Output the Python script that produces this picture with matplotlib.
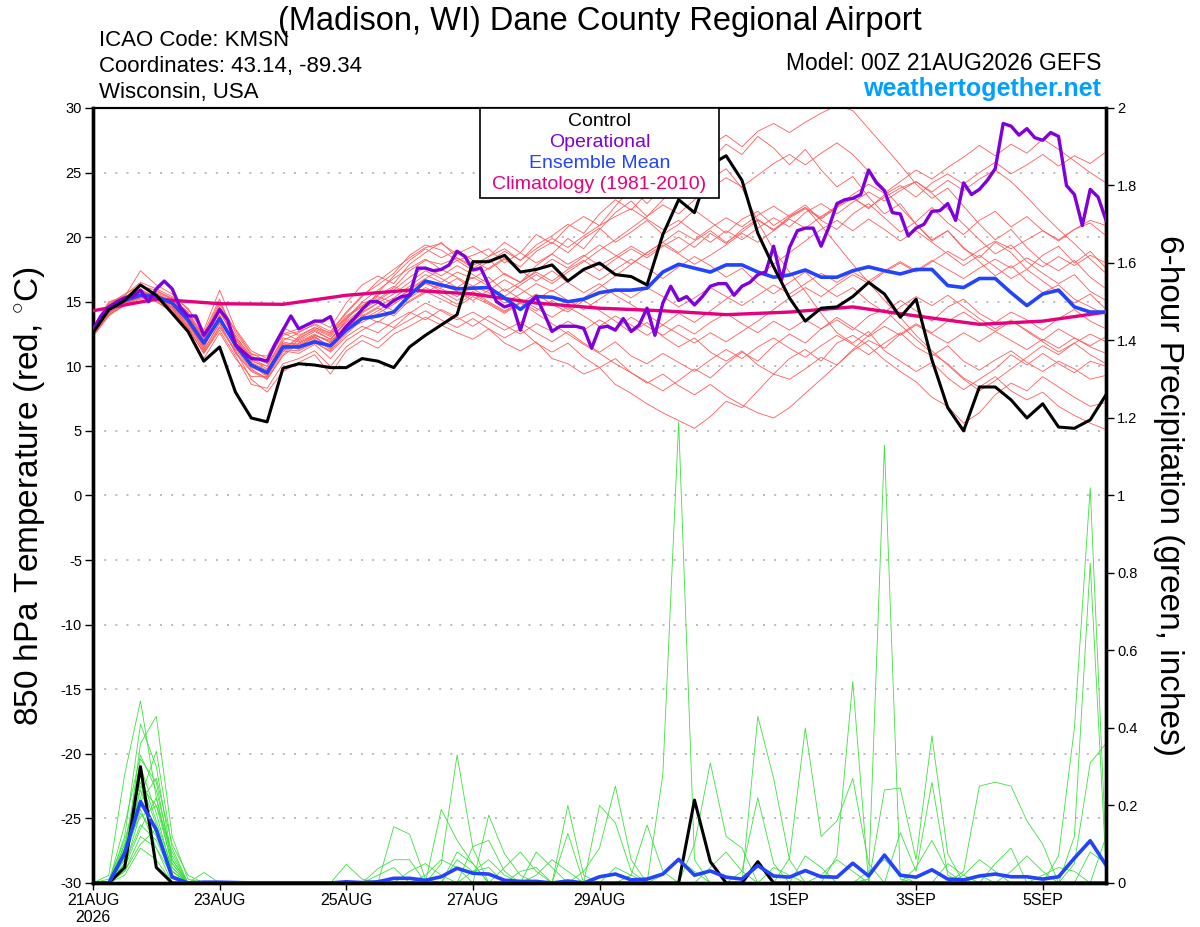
import numpy as np
import matplotlib
matplotlib.use("Agg")
import matplotlib.pyplot as plt
from matplotlib.patches import Rectangle

plt.rcParams['font.family'] = ['Liberation Sans', 'DejaVu Sans']
plt.rcParams['mathtext.fontset'] = 'custom'
plt.rcParams['mathtext.rm'] = 'Liberation Sans'
plt.rcParams['axes.unicode_minus'] = False

RED = '#ff5a5a'
GREEN = '#3ee03e'
BLUE = '#2343ff'
PURPLE = '#8000dd'
PINK = '#e6007e'

START = np.datetime64('2026-08-21T00')
t6 = START + np.arange(65) * np.timedelta64(6, 'h')
t3 = START + np.arange(129) * np.timedelta64(3, 'h')
t24 = START + np.arange(17) * np.timedelta64(24, 'h')

tick_dates = ['2026-08-21', '2026-08-23', '2026-08-25', '2026-08-27',
              '2026-08-29', '2026-09-01', '2026-09-03', '2026-09-05']
tick_labels = ['21AUG\n2026', '23AUG', '25AUG', '27AUG', '29AUG', '1SEP', '3SEP', '5SEP']

# 850 hPa temperature (C), 6-hourly
control_t = [12.6, 14.4, 15.1, 16.3, 15.5, 14.1, 12.7, 10.4, 11.5, 8.0,
             6.0, 5.7, 9.85, 10.2, 10.1, 9.9, 9.9, 10.6, 10.4, 9.9,
             11.5, 12.4, 13.2, 14.0, 18.1, 18.1, 18.6, 17.3, 17.5, 17.85,
             16.6, 17.5, 18.0, 17.1, 16.95, 16.3, 20.2, 22.9, 21.9, 25.6,
             26.3, 24.4, 20.3, 17.7, 15.3, 13.5, 14.5, 14.6, 15.4, 16.5,
             15.6, 13.8, 15.2, 10.5, 6.8, 5.0, 8.4, 8.4, 7.4, 6.0,
             7.1, 5.3, 5.2, 5.85, 7.8]

mean_t = [12.8, 14.4, 15.1, 15.5, 15.4, 14.9, 13.6, 11.8, 13.7, 11.65,
          10.1, 9.5, 11.5, 11.5, 11.9, 11.6, 12.8, 13.7, 13.9, 14.2,
          15.5, 16.6, 16.3, 16.0, 16.05, 16.1, 15.3, 14.4, 15.4, 15.35,
          15.0, 15.2, 15.7, 15.9, 15.9, 16.05, 17.3, 17.9, 17.6, 17.3,
          17.85, 17.85, 17.3, 16.9, 17.07, 17.46, 16.9, 16.9, 17.4, 17.7,
          17.4, 17.15, 17.5, 17.5, 16.25, 16.1, 16.8, 16.8, 15.7, 14.7,
          15.6, 15.9, 14.6, 14.2, 14.2]

# operational run, 3-hourly
oper_t = [12.8, 13.9, 14.6, 15.0, 15.3, 15.4, 15.9, 15.0, 16.0, 16.6,
          16.0, 14.6, 13.9, 13.9, 12.4, 13.3, 14.4, 13.6, 11.7, 11.1,
          10.6, 10.55, 10.4, 11.7, 12.8, 13.9, 12.9, 13.2, 13.5, 13.5,
          13.85, 12.3, 13.1, 13.7, 14.4, 15.0, 15.0, 14.6, 15.1, 15.4,
          15.5, 17.6, 17.6, 17.4, 17.5, 17.85, 18.9, 18.5, 17.46, 17.6,
          16.3, 15.0, 14.6, 14.8, 12.8, 14.75, 15.4, 14.1, 12.7, 13.1,
          13.1, 13.1, 12.95, 11.4, 13.0, 13.1, 12.8, 13.7, 12.7, 13.2,
          14.5, 12.4, 14.9, 16.2, 15.1, 15.4, 14.75, 15.4, 16.2, 16.4,
          16.4, 15.5, 16.2, 16.5, 17.1, 17.3, 19.3, 16.7, 19.2, 20.5,
          20.7, 20.7, 19.3, 20.8, 22.6, 22.9, 23.0, 23.3, 25.2, 24.2,
          23.6, 21.9, 21.8, 20.1, 20.7, 21.0, 22.0, 22.05, 22.6, 21.3,
          24.2, 23.3, 23.7, 24.4, 25.3, 28.8, 28.6, 27.9, 28.4, 27.7,
          27.5, 28.1, 27.8, 24.0, 23.3, 20.9, 23.7, 23.1, 21.3]

# climatology (1981-2010), daily
clim_t = [14.3, 15.2, 14.85, 14.8, 15.5, 15.9, 15.6, 14.9, 14.5, 14.3,
          14.0, 14.2, 14.6, 13.9, 13.25, 13.5, 14.2]

# ensemble members, 6-hourly
members_t = [
    [12.6, 14.2, 15.0, 15.4, 15.6, 14.8, 13.4, 11.2, 13.4, 11.0, 9.6, 9.0, 10.8,
     11.8, 12.4, 12.0, 13.6, 14.9, 15.2, 16.1, 17.4, 18.2, 17.9, 18.4, 17.8, 18.5, 19.1,
     18.2, 19.4, 20.1, 21.0, 20.3, 21.8, 22.9, 22.1, 23.4, 24.6, 25.2, 26.5, 27.1, 27.9,
     27.0, 28.2, 28.8, 28.1, 28.9, 29.6, 30.2, 29.8, 28.4, 27.0, 25.6, 24.1, 23.0, 23.8,
     22.4, 21.0, 19.8, 20.6, 19.2, 18.1, 17.4, 18.2, 16.9, 16.0],
    [12.9, 14.8, 15.6, 16.2, 15.9, 15.2, 14.0, 12.2, 14.6, 12.3, 10.8, 10.2, 12.0,
     12.6, 13.3, 12.7, 14.2, 15.5, 16.3, 17.2, 18.6, 19.4, 19.0, 18.2, 18.6, 19.1, 18.0,
     18.8, 20.2, 19.5, 20.8, 21.6, 20.9, 22.4, 23.8, 22.6, 23.9, 25.1, 24.3, 26.0, 27.2,
     26.4, 27.8, 26.9, 25.6, 26.8, 25.2, 23.9, 24.7, 23.1, 21.8, 22.6, 21.0, 19.7, 20.5,
     19.1, 18.4, 19.6, 18.8, 17.5, 18.6, 19.3, 18.0, 18.9, 17.6],
    [12.4, 14.0, 14.7, 15.0, 15.1, 14.5, 13.0, 11.0, 13.0, 11.2, 9.0, 8.0, 9.6,
     10.3, 10.9, 9.4, 11.2, 12.0, 11.4, 12.5, 13.1, 13.8, 13.2, 12.6, 12.1, 12.9, 11.8,
     11.2, 11.9, 10.6, 10.2, 9.4, 9.9, 8.6, 7.9, 7.1, 6.4, 5.8, 5.2, 6.1, 7.3,
     6.8, 8.1, 9.4, 10.6, 11.3, 10.4, 11.8, 12.4, 11.6, 10.5, 9.6, 8.8, 7.6, 6.9,
     5.6, 6.4, 7.8, 8.7, 8.1, 9.2, 8.4, 7.6, 6.9, 7.2],
    [13.0, 15.0, 15.4, 17.4, 16.3, 15.6, 14.4, 12.8, 15.9, 12.9, 11.2, 10.6, 12.5,
     12.9, 13.6, 13.0, 14.9, 16.3, 17.0, 16.4, 17.9, 18.8, 19.6, 18.4, 17.6, 18.3, 17.1,
     16.5, 17.8, 18.7, 19.9, 19.1, 20.6, 21.9, 22.8, 21.6, 22.9, 24.0, 23.1, 24.5, 25.3,
     23.8, 21.2, 19.0, 17.3, 15.8, 14.1, 12.6, 11.8, 12.7, 11.2, 10.4, 9.6, 10.3, 9.1,
     8.2, 9.0, 9.8, 10.9, 10.1, 11.0, 10.2, 9.5, 10.4, 10.0],
    [12.7, 14.4, 15.2, 15.7, 15.0, 14.2, 12.8, 10.6, 12.6, 10.6, 9.2, 9.2, 11.6,
     11.4, 12.1, 11.3, 12.7, 13.9, 14.6, 15.3, 16.2, 17.1, 16.5, 17.3, 16.8, 17.6, 18.4,
     17.7, 18.9, 19.6, 18.8, 19.9, 20.7, 19.6, 20.4, 21.3, 20.2, 21.0, 22.1, 21.2, 20.3,
     21.4, 22.0, 20.9, 21.7, 22.5, 21.3, 20.6, 21.8, 22.6, 21.5, 20.4, 21.2, 22.3, 21.1,
     20.2, 21.3, 22.0, 20.8, 21.6, 20.5, 19.7, 20.6, 21.1, 20.1],
    [12.5, 14.1, 14.9, 15.3, 15.5, 15.0, 13.8, 12.0, 14.2, 12.1, 10.4, 10.0, 11.9,
     11.6, 12.2, 11.6, 12.9, 13.4, 14.1, 14.8, 15.6, 16.4, 16.0, 15.4, 16.2, 15.7, 14.9,
     15.6, 16.4, 15.8, 16.6, 17.4, 16.7, 17.5, 18.3, 17.6, 16.8, 17.7, 18.5, 17.8, 16.9,
     17.6, 16.4, 15.6, 16.5, 17.3, 16.2, 15.4, 16.1, 15.0, 14.2, 15.1, 14.3, 13.5, 14.6,
     15.2, 14.1, 13.4, 14.2, 13.6, 12.8, 13.7, 14.4, 13.5, 12.9],
    [12.8, 14.6, 15.3, 15.8, 15.3, 14.6, 13.2, 11.6, 13.8, 11.5, 9.9, 9.4, 11.2,
     11.0, 11.7, 10.6, 12.0, 12.8, 13.5, 13.0, 14.1, 14.9, 14.3, 13.6, 14.2, 13.5, 12.8,
     13.4, 12.6, 11.9, 12.7, 11.8, 11.1, 11.9, 10.8, 10.2, 11.0, 10.3, 9.6, 10.5, 11.3,
     10.6, 11.5, 12.2, 11.4, 10.7, 11.6, 12.4, 11.7, 10.9, 11.8, 12.6, 11.5, 10.8, 11.6,
     10.4, 9.7, 10.5, 11.2, 10.3, 9.6, 10.4, 9.8, 9.0, 9.3],
    [12.6, 14.3, 15.1, 15.5, 15.8, 15.3, 14.2, 12.4, 15.0, 12.6, 10.9, 10.8, 13.0,
     12.4, 13.0, 12.4, 13.8, 14.6, 15.4, 14.9, 16.0, 16.8, 17.5, 16.9, 16.2, 16.9, 15.8,
     16.5, 17.3, 16.6, 17.5, 18.2, 17.4, 18.3, 19.1, 18.4, 19.3, 20.0, 19.2, 20.3, 19.5,
     20.6, 21.4, 20.5, 21.6, 22.3, 21.5, 22.4, 23.1, 22.2, 23.3, 24.0, 23.1, 24.2, 24.9,
     24.1, 25.0, 25.8, 24.9, 25.6, 26.4, 25.5, 26.3, 25.7, 26.6],
    [12.9, 14.7, 15.4, 16.0, 15.2, 14.4, 13.0, 11.0, 12.8, 10.8, 8.6, 8.3, 10.2,
     10.6, 11.2, 10.0, 11.5, 12.4, 11.9, 12.9, 13.6, 14.3, 13.6, 13.0, 13.7, 12.9, 12.2,
     12.9, 11.8, 11.1, 11.8, 10.7, 9.9, 10.6, 9.5, 8.8, 8.1, 8.9, 9.8, 9.1, 10.2,
     11.1, 10.4, 11.6, 12.5, 11.8, 12.9, 13.6, 12.8, 13.9, 14.4, 13.2, 12.1, 11.0, 10.2,
     9.1, 8.4, 9.2, 8.1, 7.4, 8.0, 6.9, 6.2, 5.6, 5.1],
    [12.3, 13.9, 14.8, 15.2, 15.4, 14.9, 13.6, 11.9, 13.6, 11.7, 10.2, 9.3, 11.4,
     12.2, 12.8, 12.1, 13.5, 14.4, 15.1, 15.9, 16.9, 17.7, 17.0, 17.8, 17.1, 16.4, 17.2,
     16.5, 17.4, 18.3, 17.6, 18.5, 19.4, 18.6, 17.9, 18.8, 19.6, 18.8, 19.7, 20.5, 19.6,
     20.4, 21.3, 20.6, 21.5, 22.2, 21.4, 22.3, 23.0, 22.3, 23.1, 23.8, 24.3, 23.4, 22.2,
     21.0, 19.8, 18.7, 19.4, 18.1, 17.2, 16.4, 17.1, 15.8, 15.1],
    [12.8, 14.5, 15.2, 15.6, 15.6, 15.1, 14.0, 12.1, 14.4, 12.4, 10.6, 10.0, 12.2,
     11.9, 12.5, 11.8, 13.1, 13.8, 14.5, 13.9, 15.1, 15.8, 15.2, 14.6, 15.4, 14.8, 14.1,
     14.9, 15.6, 14.8, 14.2, 15.1, 14.3, 13.5, 12.6, 13.4, 12.3, 11.5, 12.2, 11.1, 10.4,
     11.2, 10.1, 9.4, 9.0, 9.8, 10.7, 10.1, 11.2, 12.0, 11.4, 12.5, 13.3, 12.6, 13.5,
     14.2, 13.4, 12.7, 13.5, 12.8, 12.0, 12.9, 12.2, 11.6, 12.3],
    [12.6, 14.2, 15.0, 15.4, 15.0, 14.3, 12.9, 11.1, 13.1, 11.3, 9.8, 9.0, 10.9,
     12.1, 12.9, 12.3, 13.7, 15.0, 15.9, 16.8, 17.6, 18.3, 17.5, 18.2, 17.4, 18.1, 18.9,
     18.2, 19.1, 19.9, 19.2, 20.1, 20.9, 21.6, 22.2, 21.4, 20.6, 21.3, 20.4, 19.6, 20.5,
     19.8, 20.7, 21.5, 20.8, 21.9, 22.6, 21.8, 22.7, 23.5, 22.8, 23.6, 24.3, 23.5, 24.4,
     23.6, 24.5, 25.2, 24.3, 23.1, 21.8, 20.6, 19.5, 18.3, 17.2],
    [13.1, 14.9, 15.5, 16.5, 16.0, 15.4, 14.5, 12.6, 15.2, 12.2, 10.5, 9.8, 11.8,
     11.3, 11.9, 11.1, 12.3, 13.1, 12.6, 13.5, 14.2, 13.6, 14.4, 13.8, 13.1, 13.9, 13.2,
     12.5, 13.3, 12.7, 13.5, 12.8, 13.6, 12.9, 13.8, 13.1, 12.4, 13.2, 12.5, 13.4, 14.1,
     13.3, 12.6, 13.5, 12.8, 13.6, 12.9, 13.8, 13.0, 12.3, 13.1, 12.4, 13.2, 12.5, 11.8,
     12.6, 11.9, 12.7, 12.0, 11.3, 12.1, 11.4, 12.2, 11.5, 11.0],
    [12.5, 14.1, 14.9, 15.3, 15.3, 14.7, 13.4, 11.7, 13.5, 11.9, 10.0, 9.5, 11.3,
     11.7, 12.3, 11.5, 13.0, 14.1, 14.9, 15.6, 16.5, 17.4, 16.8, 16.1, 16.9, 16.2, 15.4,
     16.3, 17.1, 16.4, 17.3, 18.1, 19.0, 19.8, 20.7, 21.6, 22.5, 21.8, 22.9, 23.8, 24.6,
     23.9, 24.8, 25.7, 26.4, 25.6, 26.5, 27.3, 26.4, 25.1, 23.7, 22.3, 21.0, 19.8, 20.5,
     19.2, 18.1, 17.0, 17.8, 16.6, 15.7, 16.3, 15.2, 14.6, 14.0],
    [12.7, 14.4, 15.1, 15.6, 15.5, 14.9, 13.5, 11.4, 14.0, 11.4, 10.1, 9.2, 11.5,
     11.5, 12.3, 11.4, 12.8, 14.3, 15.7, 17.0, 18.2, 19.1, 18.4, 19.0, 18.2, 17.5, 18.3,
     17.4, 16.6, 17.4, 16.5, 15.7, 16.4, 15.5, 14.8, 14.0, 13.2, 14.1, 13.4, 14.3, 15.2,
     16.1, 17.0, 17.9, 18.8, 19.7, 20.6, 21.3, 20.5, 21.4, 20.6, 19.7, 20.5, 19.6, 18.7,
     17.8, 18.6, 17.7, 16.8, 17.5, 16.6, 15.7, 14.9, 15.6, 14.4],
    [12.4, 14.0, 14.8, 15.4, 15.7, 15.2, 14.1, 12.3, 14.8, 12.8, 11.0, 10.4, 12.4,
     12.7, 13.2, 12.5, 13.9, 14.7, 15.5, 16.2, 15.6, 16.5, 15.8, 15.1, 15.8, 15.0, 14.3,
     14.9, 14.1, 13.3, 12.5, 11.7, 11.0, 10.2, 9.5, 8.7, 9.4, 8.5, 7.8, 8.6, 7.7,
     7.0, 6.4, 6.0, 6.8, 7.9, 9.0, 10.1, 11.3, 12.4, 13.5, 14.6, 15.4, 14.7, 15.5,
     14.6, 13.7, 12.9, 13.6, 12.7, 11.9, 11.1, 11.8, 10.9, 10.2],
    [12.8, 14.6, 15.3, 15.9, 15.4, 14.5, 13.1, 11.3, 13.3, 11.1, 9.7, 9.1, 11.1,
     12.3, 13.0, 12.6, 14.1, 15.4, 16.6, 17.5, 18.4, 19.2, 19.5, 18.7, 19.3, 18.5, 19.6,
     18.8, 18.0, 18.7, 17.9, 18.6, 17.8, 18.5, 19.3, 18.6, 19.4, 18.7, 17.9, 18.6, 19.4,
     20.3, 19.6, 20.5, 21.4, 20.7, 21.6, 22.4, 23.3, 24.1, 23.4, 24.3, 25.2, 24.5, 25.4,
     26.2, 27.1, 26.3, 27.2, 26.5, 27.6, 26.8, 25.9, 25.0, 24.2],
    [12.6, 14.3, 15.0, 15.5, 15.3, 14.8, 13.7, 11.8, 13.9, 11.8, 10.3, 9.7, 11.7,
     11.8, 12.4, 11.9, 13.2, 14.0, 13.4, 14.3, 15.0, 15.7, 16.4, 15.8, 15.1, 15.9, 16.7,
     16.0, 15.2, 15.9, 15.1, 14.4, 15.2, 16.0, 15.3, 16.1, 15.4, 14.6, 15.3, 16.1, 15.4,
     14.7, 15.5, 16.3, 15.6, 16.4, 17.2, 16.5, 17.3, 16.6, 17.4, 18.1, 17.4, 18.2, 17.5,
     16.8, 17.6, 18.3, 17.6, 18.4, 17.7, 18.5, 17.8, 18.6, 18.0],
    [12.9, 14.7, 15.4, 15.8, 15.5, 15.0, 13.9, 12.0, 14.3, 12.0, 10.7, 10.3, 12.6,
     12.0, 12.7, 12.1, 13.4, 14.2, 14.9, 14.3, 15.3, 16.1, 15.5, 14.8, 15.6, 14.9, 14.2,
     15.0, 14.3, 15.1, 14.4, 15.3, 16.1, 17.0, 17.9, 18.8, 19.6, 20.5, 19.8, 20.7, 21.5,
     20.8, 21.7, 22.4, 21.6, 22.3, 20.9, 19.4, 17.9, 16.5, 15.1, 13.8, 12.4, 11.2, 10.1,
     9.0, 8.1, 8.9, 9.8, 10.7, 11.6, 10.9, 11.8, 12.5, 11.9],
    [12.5, 14.2, 15.0, 15.6, 15.2, 14.6, 13.3, 11.5, 13.7, 11.6, 10.0, 9.4, 11.3,
     11.2, 11.8, 11.2, 12.5, 13.6, 14.3, 15.1, 15.9, 16.7, 16.1, 16.8, 16.0, 15.3, 16.0,
     15.2, 14.5, 13.8, 14.6, 13.9, 13.1, 13.9, 13.2, 12.4, 13.2, 12.5, 11.8, 12.6, 11.9,
     12.7, 13.5, 14.4, 15.3, 16.1, 15.4, 16.3, 17.1, 16.4, 17.3, 18.0, 17.3, 18.1, 18.9,
     18.2, 19.0, 19.7, 19.1, 19.8, 20.5, 19.8, 20.6, 21.3, 20.9],
]

# 6-hour precipitation (inches); members given as {6h step: amount}, others zero
mean_p = [0, 0, 0.077, 0.21, 0.137, 0.015, 0, 0.002, 0.002, 0.001,
          0, 0, 0, 0, 0, 0, 0.003, 0.001, 0.003, 0.012,
          0.012, 0.007, 0.016, 0.038, 0.025, 0.023, 0.007, 0.004, 0.004, 0.0,
          0.005, 0.0, 0.016, 0.023, 0.008, 0.01, 0.023, 0.061, 0.02, 0.031,
          0.015, 0.01, 0.045, 0.018, 0.015, 0.032, 0.016, 0.015, 0.051, 0.018,
          0.072, 0.02, 0.015, 0.034, 0.01, 0.008, 0.018, 0.023, 0.016, 0.016,
          0.01, 0.016, 0.064, 0.109, 0.046]

control_p = {2: 0.04, 3: 0.30, 4: 0.04, 38: 0.214, 39: 0.055, 42: 0.055}

members_p = [
    {1: 0.02, 2: 0.28, 3: 0.47, 4: 0.22, 5: 0.04, 22: 0.05, 23: 0.33, 24: 0.09, 36: 0.28, 37: 1.19, 38: 0.06, 56: 0.02},
    {2: 0.12, 3: 0.41, 4: 0.30, 5: 0.06, 19: 0.145, 20: 0.126, 21: 0.01, 42: 0.43, 43: 0.27, 44: 0.06, 62: 0.12, 63: 0.825, 64: 0.04},
    {2: 0.05, 3: 0.36, 4: 0.43, 5: 0.12, 6: 0.01, 25: 0.175, 26: 0.075, 27: 0.02, 49: 0.01, 50: 1.13, 51: 0.01},
    {2: 0.09, 3: 0.30, 4: 0.18, 5: 0.03, 22: 0.19, 23: 0.11, 24: 0.05, 47: 0.07, 48: 0.52},
    {2: 0.06, 3: 0.25, 4: 0.20, 5: 0.05, 30: 0.128, 32: 0.2, 33: 0.155, 34: 0.03, 61: 0.07, 62: 0.40, 63: 1.02, 64: 0.08},
    {2: 0.04, 3: 0.18, 4: 0.12, 5: 0.02, 28: 0.08, 29: 0.04, 44: 0.064, 45: 0.40, 46: 0.12, 47: 0.16, 48: 0.27, 49: 0.05},
    {2: 0.15, 3: 0.33, 4: 0.24, 5: 0.07, 7: 0.027, 16: 0.048, 17: 0.01, 38: 0.1, 39: 0.31, 40: 0.12, 41: 0.09},
    {2: 0.03, 3: 0.12, 4: 0.09, 5: 0.02, 50: 0.24, 51: 0.245, 52: 0.06, 53: 0.38, 54: 0.075},
    {2: 0.08, 3: 0.21, 4: 0.27, 5: 0.10, 6: 0.02, 55: 0.03, 56: 0.25, 57: 0.26, 58: 0.25, 59: 0.16, 60: 0.1},
    {2: 0.07, 3: 0.28, 4: 0.16, 5: 0.04, 18: 0.037, 19: 0.06, 20: 0.06, 24: 0.094, 25: 0.11, 26: 0.03, 51: 0.13, 52: 0.03, 53: 0.26, 54: 0.02},
    {2: 0.10, 3: 0.22, 4: 0.34, 5: 0.09, 23: 0.08, 24: 0.05, 34: 0.02, 35: 0.15, 36: 0.03, 62: 0.05, 63: 0.31, 64: 0.36},
    {2: 0.02, 3: 0.09, 4: 0.06, 27: 0.03, 28: 0.04, 30: 0.2, 31: 0.02, 58: 0.03, 59: 0.07, 60: 0.03},
    {1: 0.01, 2: 0.11, 3: 0.26, 4: 0.15, 5: 0.03, 20: 0.03, 21: 0.05, 22: 0.02, 41: 0.03, 42: 0.22, 43: 0.05, 45: 0.07, 46: 0.04},
    {2: 0.05, 3: 0.15, 4: 0.11, 5: 0.02, 31: 0.03, 32: 0.09, 33: 0.25, 34: 0.06, 39: 0.04, 40: 0.08, 41: 0.03},
    {2: 0.09, 3: 0.32, 4: 0.26, 5: 0.05, 23: 0.06, 24: 0.03, 25: 0.04, 52: 0.04, 53: 0.11, 54: 0.03, 63: 0.08, 64: 0.05},
    {2: 0.03, 3: 0.10, 4: 0.14, 5: 0.03, 26: 0.04, 27: 0.08, 28: 0.03, 46: 0.02, 47: 0.06, 48: 0.03, 57: 0.05, 58: 0.09},
    {2: 0.06, 3: 0.19, 4: 0.09, 18: 0.02, 19: 0.04, 36: 0.02, 37: 0.06, 38: 0.03, 55: 0.02, 56: 0.06, 57: 0.03},
    {2: 0.04, 3: 0.14, 4: 0.22, 5: 0.06, 24: 0.03, 25: 0.06, 26: 0.02, 43: 0.04, 44: 0.02, 60: 0.02, 61: 0.04, 62: 0.03},
    {2: 0.07, 3: 0.24, 4: 0.13, 5: 0.02, 28: 0.02, 29: 0.06, 30: 0.03, 49: 0.03, 50: 0.06, 51: 0.02, 64: 0.12},
    {2: 0.10, 3: 0.17, 4: 0.20, 5: 0.08, 21: 0.02, 22: 0.06, 23: 0.04, 33: 0.04, 34: 0.02, 54: 0.05, 55: 0.02},
]


def expand(steps):
    out = np.zeros(len(t6))
    for k, v in steps.items():
        out[k] = v
    return out


fig = plt.figure(figsize=(12, 9.27), dpi=100)
ax2 = fig.add_axes([0.0775, 0.0475, 0.8442, 0.836])
ax = fig.add_axes([0.0775, 0.0475, 0.8442, 0.836], sharex=ax2)
ax.patch.set_visible(False)

# precipitation (right axis)
for m in members_p:
    ax2.plot(t6, expand(m), color=GREEN, lw=0.6)
ax2.plot(t6, expand(control_p), color='black', lw=2.2)
ax2.plot(t6, mean_p, color=BLUE, lw=2.6)
ax2.set_ylim(0, 2)
ax2.yaxis.tick_right()
ax2.set_yticks(np.arange(0, 2.01, 0.2))
ax2.set_yticklabels(['%g' % v for v in np.arange(0, 2.01, 0.2).round(1)])

# temperature (left axis)
for y in range(-25, 30, 5):
    ax.axhline(y, color='#b0b0b0', lw=1.2, ls=(0, (1.2, 5.5)), zorder=0)
for m in members_t:
    ax.plot(t6, m, color=RED, lw=0.6, zorder=1)
ax.plot(t24, clim_t, color=PINK, lw=2.4, zorder=3)
ax.plot(t6, mean_t, color=BLUE, lw=2.6, zorder=4)
ax.plot(t3, oper_t, color=PURPLE, lw=2.4, zorder=5)
ax.plot(t6, control_t, color='black', lw=2.2, zorder=6)
ax.set_ylim(-30, 30)
ax.set_yticks(range(-30, 31, 5))
ax.set_xlim(t6[0], t6[-1])
ax.set_xticks([np.datetime64(d + 'T00') for d in tick_dates])
ax.set_xticklabels(tick_labels)

for a in (ax, ax2):
    for s in a.spines.values():
        s.set_linewidth(2.4)
    a.spines['top'].set_linewidth(1.5)
ax.tick_params(axis='y', labelsize=10.5, length=6, width=1, direction='out', pad=2)
ax2.tick_params(axis='y', labelsize=10.5, length=6, width=1, direction='out', right=True, left=False, pad=2)
ax.tick_params(axis='x', labelsize=11.5, length=5, width=1, pad=2)
ax2.tick_params(axis='x', bottom=False, labelbottom=False)

# legend box
ax.add_patch(Rectangle((0.382, 0.884), 0.236, 0.116, transform=ax.transAxes,
                       facecolor='white', edgecolor='black', lw=1.2, zorder=10))
for label, color, yy in [('Control', 'black', 0.983), ('Operational', PURPLE, 0.956),
                         ('Ensemble Mean', BLUE, 0.929), ('Climatology (1981-2010)', PINK, 0.901)]:
    ax.text(0.5, yy, label, color=color, fontsize=14, ha='center', va='center',
            transform=ax.transAxes, zorder=11)

# header texts
fig.text(0.5, 0.977, '(Madison, WI) Dane County Regional Airport', fontsize=23.5, ha='center', va='center')
fig.text(0.0825, 0.956, 'ICAO Code: KMSN', fontsize=16, ha='left', va='center')
fig.text(0.0825, 0.928, 'Coordinates: 43.14, -89.34', fontsize=16, ha='left', va='center')
fig.text(0.0825, 0.900, 'Wisconsin, USA', fontsize=16, ha='left', va='center')
fig.text(0.9175, 0.932, 'Model: 00Z 21AUG2026 GEFS', fontsize=16.5, ha='right', va='center')
fig.text(0.9175, 0.904, 'weathertogether.net', fontsize=18, ha='right', va='center',
         color='#00a0ff', fontweight='bold')
fig.text(0.025, 0.465, r'850 hPa Temperature (red, $^{\circ}$C)', fontsize=24,
         rotation=90, ha='center', va='center')
fig.text(0.974, 0.465, '6-hour Precipitation (green, inches)', fontsize=24,
         rotation=270, ha='center', va='center')

fig.savefig('out.png', dpi=100)
